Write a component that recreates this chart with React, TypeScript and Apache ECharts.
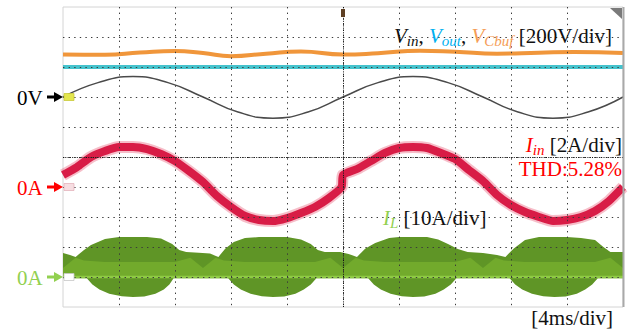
import React, { useEffect, useRef } from "react";
import * as echarts from "echarts";

const W = 629;
const H = 329;

// ---- scope settings ----
const TIME_MIN = 0;
const TIME_MAX = 40; // ms, 4 ms/div
const TIME_DIV = 4;
const Y_MIN = 0;
const Y_MAX = 10; // divisions
const VOLT_PER_DIV = 200;
const IIN_PER_DIV = 2;
const IL_PER_DIV = 10;
const V_ZERO_DIV = 7;
const IIN_ZERO_DIV = 4;
const IL_ZERO_DIV = 1;

// ---- data (time in ms, value in V or A) ----
const vinData: [number, number][] = [
  [0, 0], [2.5, 96], [5, 136], [7.5, 96], [10, 0], [12.5, -100], [15, -141], [17.5, -100],
  [20, 0], [22.5, 96], [25, 136], [27.5, 96], [30, 0], [32.5, -100], [35, -141], [37.5, -100], [40, 0],
];
const voutData: [number, number][] = [[0, 200], [40, 200]];
const vcbufData: [number, number][] = [
  [0, 284], [3, 281], [5.5, 296], [8, 307], [10, 293], [12, 272], [14.5, 289], [17, 303],
  [20, 283], [22.5, 292], [25.5, 309], [28, 302], [31, 289], [34, 295], [36.5, 300], [40, 293],
];
const iinData: [number, number][] = [
  [0, 0.8], [1, 1.33], [2, 2.0], [3, 2.4], [4, 2.67], [5, 2.67], [6, 2.53], [7, 2.2], [8, 1.73],
  [9, 1.07], [10, 0.33], [11, -0.6], [12, -1.33], [13, -1.93], [14, -2.2], [15, -2.27], [16, -2.07],
  [17, -1.73], [18, -1.33], [19, -0.73], [19.9, 0.0], [20, 0.8], [21, 1.2], [22, 1.73], [23, 2.27],
  [24, 2.6], [25, 2.67], [26, 2.6], [27, 2.27], [28, 1.87], [29, 1.13], [30, 0.4], [31, -0.53],
  [32, -1.2], [33, -1.67], [34, -2.0], [35, -2.27], [36, -2.2], [37, -2.0], [38, -1.6], [39, -0.93],
  [40, 0],
];
const ilUpper: [number, number][] = [
  [0, 8.0], [0.5, 7.3], [0.9, 6.7], [1.5, 9.0], [2, 10.7], [3, 12.7], [4, 13.3], [5, 13.3], [6, 13.3],
  [7, 12.8], [7.8, 11.0], [8.3, 9.0], [8.8, 8.3], [9.7, 8.1], [10.5, 7.8], [11.1, 6.7], [11.6, 9.5],
  [12.2, 11.7], [13, 13.0], [14, 13.3], [15, 13.3], [16, 13.3], [17, 12.5], [17.7, 11.0], [18.2, 9.0],
  [18.7, 8.3], [19.8, 8.3], [20.4, 7.7], [21, 6.7], [21.6, 9.5], [22.3, 11.3], [23.3, 13.0], [24, 13.3],
  [25, 13.3], [26, 13.3], [26.8, 12.5], [27.5, 11.0], [28.2, 9.3], [28.9, 8.3], [30, 8.0], [31, 7.3],
  [31.6, 6.7], [32.2, 9.5], [33, 12.3], [34, 13.3], [35, 13.3], [36, 13.3], [37, 13.0], [38, 12.3],
  [38.6, 10.0], [39.1, 8.3], [40, 8.3],
];
const ilLower: [number, number][] = [
  [0, -0.4], [1.7, -0.4], [2.1, -2.5], [2.6, -4.2], [3.3, -5.6], [4.2, -6.4], [5, -6.7], [5.8, -6.5],
  [6.6, -5.6], [7.2, -4.2], [7.6, -2.5], [7.9, -0.4], [11.8, -0.4], [12.2, -2.5], [12.7, -4.2],
  [13.4, -5.6], [14.2, -6.4], [15, -6.7], [15.8, -6.5], [16.6, -5.6], [17.2, -4.2], [17.7, -2.5],
  [18.1, -0.4], [21.8, -0.4], [22.2, -2.5], [22.7, -4.2], [23.4, -5.6], [24.2, -6.4], [25, -6.7],
  [25.8, -6.5], [26.6, -5.6], [27.2, -4.2], [27.7, -2.5], [28.1, -0.4], [31.9, -0.4], [32.3, -2.5],
  [32.8, -4.2], [33.5, -5.6], [34.3, -6.4], [35.1, -6.7], [35.9, -6.5], [36.7, -5.6], [37.3, -4.2],
  [37.8, -2.5], [38.2, -0.4], [40, -0.4],
];
const ilLightTop: [number, number][] = [
  [0, 3.0], [0.9, 6.4], [1.5, 5.5], [3, 5.0], [8, 5.0], [9.1, 6.4], [10, 3.0], [10.9, 6.4], [11.5, 5.5],
  [13, 5.0], [18, 5.0], [19.1, 6.4], [20, 3.0], [20.9, 6.4], [21.5, 5.5], [23, 5.0], [28, 5.0],
  [29.1, 6.4], [30, 3.0], [30.9, 6.4], [31.5, 5.5], [33, 5.0], [38, 5.0], [39.1, 6.4], [40, 3.0],
];

// ---- labels ----
const SERIF = "Liberation Serif";
const C_BLACK = "#111111";
const C_VOUT = "#00b0f0";
const C_CBUF = "#f59d56";
const C_RED = "#ff0000";
const C_GREEN = "#92d050";

const divV = (v: number) => V_ZERO_DIV + v / VOLT_PER_DIV;
const divIin = (a: number) => IIN_ZERO_DIV + a / IIN_PER_DIV;
const divIL = (a: number) => IL_ZERO_DIV + a / IL_PER_DIV;

type Piece = { text: string; size: number; italic?: boolean; color: string; dy?: number };

function pieceLine(ctx: CanvasRenderingContext2D, pieces: Piece[], anchorX: number, baseline: number, align: "left" | "right") {
  const widths = pieces.map((p) => {
    ctx.font = `${p.italic ? "italic " : ""}${p.size}px "${SERIF}"`;
    return ctx.measureText(p.text).width;
  });
  const total = widths.reduce((a, b) => a + b, 0);
  let x = align === "right" ? anchorX - total : anchorX;
  return pieces.map((p, i) => {
    const el = {
      type: "text",
      x,
      y: baseline + (p.dy || 0) - 0.34 * p.size,
      z: 20,
      silent: true,
      style: {
        text: p.text,
        fontSize: p.size,
        lineHeight: p.size,
        fontFamily: SERIF,
        fontStyle: p.italic ? "italic" : "normal",
        fill: p.color,
        align: "left",
        verticalAlign: "middle",
      },
    };
    x += widths[i];
    return el;
  });
}

function arrow(y: number, color: string) {
  return [
    { type: "rect", z: 20, silent: true, shape: { x: 47, y: y - 1.5, width: 9, height: 3 }, style: { fill: color } },
    { type: "polygon", z: 20, silent: true, shape: { points: [[54, y - 5], [63, y], [54, y + 5]] }, style: { fill: color } },
  ];
}

export default function App() {
  const ref = useRef<HTMLDivElement>(null);
  useEffect(() => {
    const el = ref.current!;
    const chart = echarts.init(el, null, { renderer: "svg", width: W, height: H });
    const dotted = { color: "#3a3a3a", width: 1, type: [1.4, 4.2] };
    const dense = { color: "#111111", width: 1, type: [1, 1.3] };
    const hideAxis = { axisLine: { show: false }, axisTick: { show: false }, axisLabel: { show: false } };
    const option: any = {
      animation: false,
      backgroundColor: "#ffffff",
      grid: { left: 63, top: 7, width: 560, height: 300, show: true, borderColor: "#d4d4d4", borderWidth: 1, backgroundColor: "#ffffff" },
      xAxis: [
        { type: "value", min: TIME_MIN, max: TIME_MAX, interval: TIME_DIV, z: 3, ...hideAxis,
          splitLine: { show: true, showMinLine: false, showMaxLine: false, lineStyle: dotted } },
        { type: "value", min: TIME_MIN, max: TIME_MAX, interval: (TIME_MAX - TIME_MIN) / 2, z: 4, position: "bottom", ...hideAxis,
          splitLine: { show: true, showMinLine: false, showMaxLine: false, lineStyle: dense } },
      ],
      yAxis: [
        { type: "value", min: Y_MIN, max: Y_MAX, interval: 1, z: 3, ...hideAxis,
          splitLine: { show: true, showMinLine: false, showMaxLine: false, lineStyle: dotted } },
        { type: "value", min: Y_MIN, max: Y_MAX, interval: 5, z: 4, position: "left", ...hideAxis,
          splitLine: { show: true, showMinLine: false, showMaxLine: false, lineStyle: dense } },
      ],
      series: [
        {
          type: "custom",
          name: "IL",
          silent: true,
          z: 2,
          data: [[0, divIL(0)]],
          renderItem: (params: any, api: any) => {
            if (params.dataIndex !== 0) return null;
            const up = ilUpper.map(([t, a]) => api.coord([t, divIL(a)]));
            const lo = ilLower.map(([t, a]) => api.coord([t, divIL(a)])).reverse();
            const light = ilLightTop.map(([t, a]) => api.coord([t, divIL(a)]));
            const z0a = api.coord([TIME_MIN, divIL(0)]);
            const z0b = api.coord([TIME_MAX, divIL(0)]);
            return {
              type: "group",
              children: [
                { type: "polygon", shape: { points: up.concat(lo), smooth: 0 }, style: { fill: "#5f9526" } },
                { type: "polygon", shape: { points: light.concat([z0b, z0a]) }, style: { fill: "#72aa2c" } },
                { type: "line", shape: { x1: z0a[0], y1: z0a[1], x2: z0b[0], y2: z0b[1] }, style: { stroke: "#8fcb45", lineWidth: 2.5 } },
              ],
            };
          },
        },
        {
          type: "line", name: "Iin halo", silent: true, symbol: "none", smooth: 0.2, z: 2,
          data: iinData.map(([t, a]) => [t, divIin(a)]),
          lineStyle: { color: "rgba(228,70,100,0.35)", width: 12 },
        },
        {
          type: "line", name: "Iin", silent: true, symbol: "none", smooth: 0.2, z: 2,
          data: iinData.map(([t, a]) => [t, divIin(a)]),
          lineStyle: { color: "#d81c46", width: 8 },
        },
        {
          type: "line", name: "Vin", silent: true, symbol: "none", smooth: 0.5, z: 2,
          data: vinData.map(([t, v]) => [t, divV(v)]),
          lineStyle: { color: "#4a4a4a", width: 1.5 },
        },
        {
          type: "line", name: "Vout", silent: true, symbol: "none", z: 2,
          data: voutData.map(([t, v]) => [t, divV(v)]),
          lineStyle: { color: "#45c3cd", width: 4 },
        },
        {
          type: "line", name: "VCbuf", silent: true, symbol: "none", smooth: 0.5, z: 2,
          data: vcbufData.map(([t, v]) => [t, divV(v)]),
          lineStyle: { color: "#f0963b", width: 4 },
        },
      ],
    };
    chart.setOption(option);

    const toPx = (t: number, d: number) => chart.convertToPixel({ seriesIndex: 3 }, [t, d]) as number[];
    const [x0, yV0] = toPx(TIME_MIN, V_ZERO_DIV);
    const yI0 = toPx(TIME_MIN, IIN_ZERO_DIV)[1];
    const yL0 = toPx(TIME_MIN, IL_ZERO_DIV)[1];
    const [xMid, yTop] = toPx((TIME_MIN + TIME_MAX) / 2, Y_MAX);
    const [xRight] = toPx(TIME_MAX, Y_MAX);

    const ctx = document.createElement("canvas").getContext("2d")!;
    const graphics: any[] = [];
    graphics.push(...pieceLine(ctx, [{ text: "0V", size: 21, color: "#000000" }], 17, yV0 + 8, "left"));
    graphics.push(...pieceLine(ctx, [{ text: "0A", size: 21, color: C_RED }], 17, yI0 + 8, "left"));
    graphics.push(...pieceLine(ctx, [{ text: "0A", size: 21, color: C_GREEN }], 17, yL0 + 8, "left"));
    graphics.push(...arrow(yV0, "#000000"), ...arrow(yI0, C_RED), ...arrow(yL0, C_GREEN));
    graphics.push(
      { type: "rect", z: 21, silent: true, shape: { x: x0 + 1, y: yV0 - 3.5, width: 10, height: 7 }, style: { fill: "#e3e64e", stroke: "#c9c93a", lineWidth: 0.8 } },
      { type: "rect", z: 21, silent: true, shape: { x: x0 + 1, y: yI0 - 3.5, width: 10, height: 7 }, style: { fill: "#f6dde1", stroke: "#e4b4bd", lineWidth: 0.8 } },
      { type: "rect", z: 21, silent: true, shape: { x: x0 + 1, y: yL0 - 3.5, width: 10, height: 7 }, style: { fill: "#ffffff", stroke: "#c8c8c8", lineWidth: 0.8 } },
    );
    graphics.push(
      { type: "rect", z: 21, silent: true, shape: { x: xMid - 2, y: yTop + 2, width: 4, height: 8 }, style: { fill: "#5e4024" } },
      { type: "polygon", z: 21, silent: true, shape: { points: [[xRight - 13, yTop + 1], [xRight - 1, yTop + 1], [xRight - 1, yTop + 12]] }, style: { fill: "#7a7a7a" } },
      { type: "line", z: 21, silent: true, shape: { x1: xRight + 0.5, y1: yTop, x2: xRight + 0.5, y2: yTop + 300 }, style: { stroke: "#a9a9a9", lineWidth: 2 } },
    );
    graphics.push(
      ...pieceLine(ctx, [
        { text: "V", size: 21, italic: true, color: C_BLACK },
        { text: "in", size: 15, italic: true, color: C_BLACK, dy: 3 },
        { text: ", ", size: 21, color: C_BLACK },
        { text: "V", size: 21, italic: true, color: C_VOUT },
        { text: "out", size: 15, italic: true, color: C_VOUT, dy: 3 },
        { text: ", ", size: 21, color: C_BLACK },
        { text: "V", size: 21, italic: true, color: C_CBUF },
        { text: "Cbuf", size: 15, italic: true, color: C_CBUF, dy: 3 },
        { text: " [200V/div]", size: 21, color: C_BLACK },
      ], 612, 43, "right"),
      ...pieceLine(ctx, [
        { text: "I", size: 21, italic: true, color: C_RED },
        { text: "in", size: 15, italic: true, color: C_RED, dy: 3 },
        { text: " [2A/div]", size: 21, color: C_BLACK },
      ], 622, 152, "right"),
      ...pieceLine(ctx, [{ text: "THD:5.28%", size: 21, color: C_RED }], 622, 176, "right"),
      ...pieceLine(ctx, [
        { text: "I", size: 21, italic: true, color: C_GREEN },
        { text: "L", size: 15, italic: true, color: C_GREEN, dy: 3 },
        { text: " [10A/div]", size: 21, color: C_BLACK },
      ], 383, 225, "left"),
      ...pieceLine(ctx, [{ text: "[4ms/div]", size: 21, color: C_BLACK }], 613, 325, "right"),
    );
    chart.setOption({ graphic: graphics });
    return () => chart.dispose();
  }, []);
  return <div ref={ref} style={{ position: "fixed", left: 0, top: 0, width: W, height: H, background: "#fff" }} />;
}
